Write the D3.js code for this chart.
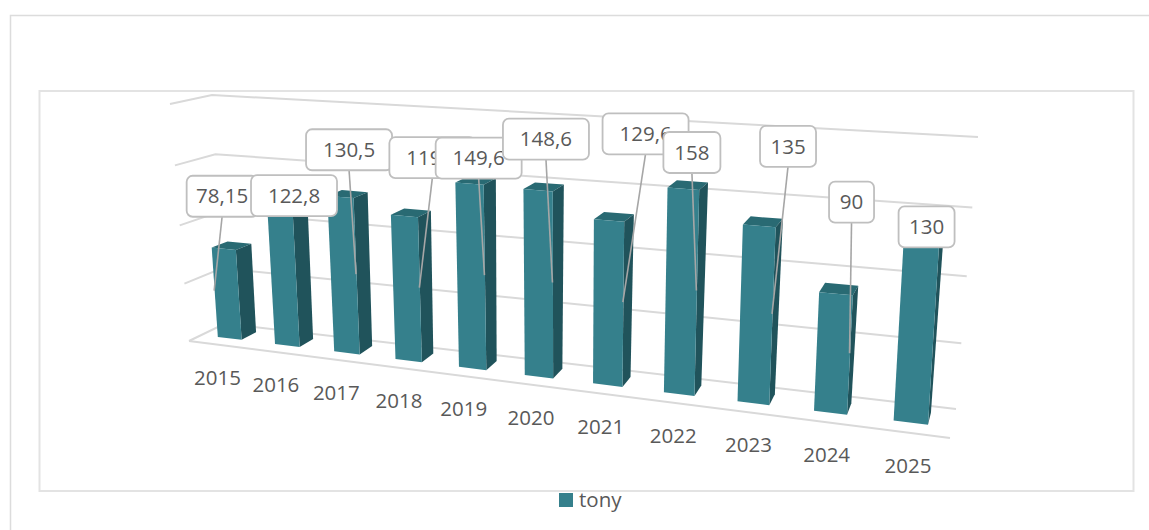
<!DOCTYPE html>
<html>
<head>
<meta charset="utf-8">
<script src="https://cdn.jsdelivr.net/npm/d3@7"></script>
<style>
  body { margin: 0; background: #fff; }
  svg { display: block; }
  text { font-family: "Open Sans", sans-serif; fill: #595959; }
</style>
</head>
<body>
<svg width="1149" height="530"></svg>
<script>
var years = ["2015", "2016", "2017", "2018", "2019", "2020", "2021", "2022", "2023", "2024", "2025"];
var tony = [78.15, 122.8, 130.5, 119.5, 149.6, 148.6, 129.6, 158, 135, 90, 130];
var valueLabels = ["78,15", "122,8", "130,5", "119,5", "149,6", "148,6", "129,6", "158", "135", "90", "130"];
var gridTicks = [0, 50, 100, 150, 200];

// callouts were dragged by hand in the original, so they are kept as offsets from the bar
var calloutDx = [8, -1.3, -7, 13, -5.8, -6.5, 22.7, -4.5, 16, 2, -6.5];
var calloutDy = [-94.4, -77.1, -124.4, -130, -116.9, -143.4, -168.3, -138.1, -167.4, -151, -106.9];
var calloutW = [71, 86, 86, 86, 86, 86, 86, 57, 56, 45, 56];
var hasLeader = [true, false, true, true, true, true, true, true, true, true, false];

var svg = d3.select("svg");

// box of the 3d plot on screen: [bottom, top] of each vertical edge
var frontLeft = [[189, 341], [170, 104]];
var backLeft = [[225, 323.5], [212, 95]];
var backRight = [[956, 409], [978, 137]];
var frontRight = [[950, 438], [966, 156]];

var x = d3.scaleBand().domain(years).range([0, 1]).paddingInner(0.58).paddingOuter(0.29);
var y = d3.scaleLinear().domain(gridTicks).range([0, 0.242, 0.488, 0.741, 1]);
var barFront = 0.35, barBack = 0.77;

// things further right come nearer the camera
function widen(t) {
  return t / (1 + 0.225 * (1 - t));
}

function project(t, depth, value) {
  var v = y(value), u = widen(t);
  var edge = function(e) { return d3.interpolate(e[0], e[1])(v); };
  var l = d3.interpolate(edge(frontLeft), edge(backLeft))(depth);
  var r = d3.interpolate(edge(frontRight), edge(backRight))(depth);
  return d3.interpolate(l, r)(u);
}

var poly = d3.line().curve(d3.curveLinearClosed);

// frames
svg.append("path")
  .attr("d", "M10.5,530V15.5H1149")
  .attr("fill", "none")
  .attr("stroke", "#dcdcdc")
  .attr("stroke-width", 1.5);
svg.append("rect")
  .attr("x", 39.5).attr("y", 91)
  .attr("width", 1094).attr("height", 400)
  .attr("fill", "#fff")
  .attr("stroke", "#e3e3e3")
  .attr("stroke-width", 2);

// grid
var grid = svg.append("g")
  .attr("fill", "none")
  .attr("stroke", "#d9d9d9")
  .attr("stroke-width", 2);
grid.selectAll("path.wall")
  .data(gridTicks)
  .enter().append("path")
    .attr("class", "wall")
    .attr("d", function(d) {
      return d3.line()([project(0, 0, d), project(0, 1, d), project(1, 1, d)]);
    });
grid.append("path")
  .attr("d", d3.line()([project(0, 0, 0), project(1, 0, 0)]));

// bars
var bars = svg.append("g")
  .selectAll("g")
  .data(years)
  .enter().append("g");

bars.append("path")
  .attr("fill", "#296a73")
  .attr("d", function(d, i) {
    var a = x(d), b = a + x.bandwidth(), v = tony[i];
    return poly([project(a, barFront, v), project(b, barFront, v), project(b, barBack, v), project(a, barBack, v)]);
  });
bars.append("path")
  .attr("fill", "#20535b")
  .attr("d", function(d, i) {
    var b = x(d) + x.bandwidth();
    return poly([project(b, barFront, 0), project(b, barBack, 0), project(b, barBack, tony[i]), project(b, barFront, tony[i])]);
  });
bars.append("path")
  .attr("fill", "#35808c")
  .attr("d", function(d, i) {
    var a = x(d), b = a + x.bandwidth();
    return poly([project(a, barFront, 0), project(b, barFront, 0), project(b, barFront, tony[i]), project(a, barFront, tony[i])]);
  });

// category labels
svg.append("g")
  .selectAll("text")
  .data(years)
  .enter().append("text")
    .attr("text-anchor", "middle")
    .attr("font-size", 20.5)
    .attr("dy", "0.35em")
    .attr("x", function(d) { return project(x(d) + x.bandwidth() / 2, 0, 0)[0]; })
    .attr("y", function(d) { return project(x(d) + x.bandwidth() / 2, 0, 0)[1] + 33; })
    .text(function(d) { return d; });

// data callouts, later ones sit on top of earlier ones
var callouts = svg.append("g")
  .selectAll("g")
  .data(years)
  .enter().append("g")
    .attr("transform", function(d, i) {
      var t = i == 0 ? x(d) : x(d) + x.bandwidth();
      var p = project(t, barFront, tony[i] * 0.52);
      return "translate(" + (p[0] - 0.5) + "," + p[1] + ")";
    });

callouts.filter(function(d, i) { return hasLeader[i]; })
  .append("line")
    .attr("x1", function(d) { return calloutDx[years.indexOf(d)]; })
    .attr("y1", function(d) { return calloutDy[years.indexOf(d)] + 20; })
    .attr("x2", 0)
    .attr("y2", 0)
    .attr("stroke", "#a6a6a6")
    .attr("stroke-width", 1.6);

callouts.append("rect")
  .attr("x", function(d, i) { return calloutDx[i] - calloutW[i] / 2; })
  .attr("y", function(d, i) { return calloutDy[i] - 20.5; })
  .attr("width", function(d, i) { return calloutW[i]; })
  .attr("height", 41)
  .attr("rx", 6)
  .attr("fill", "#fff")
  .attr("stroke", "#bfbfbf")
  .attr("stroke-width", 1.8);

callouts.append("text")
  .attr("text-anchor", "middle")
  .attr("font-size", 20.5)
  .attr("dy", "0.35em")
  .attr("x", function(d, i) { return calloutDx[i]; })
  .attr("y", function(d, i) { return calloutDy[i]; })
  .text(function(d, i) { return valueLabels[i]; });

// legend
var legend = svg.append("g").attr("transform", "translate(559,493)");
legend.append("rect")
  .attr("width", 14)
  .attr("height", 14)
  .attr("fill", "#35808c");
legend.append("text")
  .attr("x", 20)
  .attr("y", 7)
  .attr("dy", "0.35em")
  .attr("font-size", 20.5)
  .text("tony");
</script>
</body>
</html>
